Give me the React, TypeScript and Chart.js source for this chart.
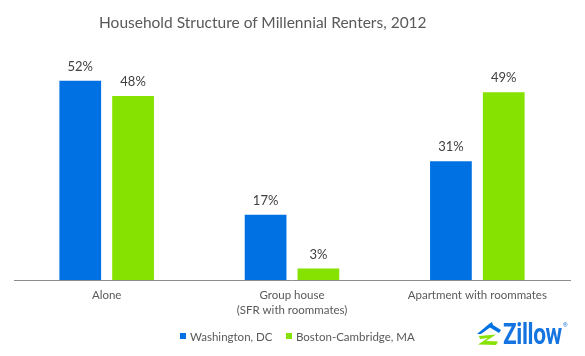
import React, { useEffect, useRef } from "react";
import { Chart, registerables } from "chart.js";

Chart.register(...registerables);

const categories: (string | string[])[] = [
  "Alone",
  ["Group house", "(SFR with roommates)"],
  "Apartment with roommates",
];
const seriesNames = ["Washington, DC", "Boston-Cambridge, MA"];
const washington = [52, 17, 31];
const boston = [48, 3, 49];
const yMax = 60;

const BLUE = "#0071e2";
const GREEN = "#86e200";
const COLORS = [BLUE, GREEN];
const FONT = "Lato, 'Open Sans', sans-serif";

const valueLabels = {
  id: "valueLabels",
  afterDatasetsDraw(chart: any) {
    const ctx = chart.ctx;
    ctx.save();
    ctx.font = `13px ${FONT}`;
    ctx.fillStyle = "#404040";
    ctx.textAlign = "center";
    ctx.textBaseline = "middle";
    chart.data.datasets.forEach((ds: any, i: number) => {
      const meta = chart.getDatasetMeta(i);
      meta.data.forEach((el: any, j: number) => {
        ctx.fillText(`${ds.data[j]}%`, el.x, el.y - 14);
      });
    });
    ctx.restore();
  },
};

export default function App() {
  const ref = useRef<HTMLCanvasElement | null>(null);

  useEffect(() => {
    if (!ref.current) return;
    const chart = new Chart(ref.current, {
      type: "bar",
      data: {
        labels: categories,
        datasets: [
          {
            label: seriesNames[0],
            data: washington,
            backgroundColor: BLUE,
            categoryPercentage: 0.57,
            barPercentage: 0.79,
          },
          {
            label: seriesNames[1],
            data: boston,
            backgroundColor: GREEN,
            categoryPercentage: 0.57,
            barPercentage: 0.79,
          },
        ],
      },
      options: {
        animation: false,
        responsive: false,
        devicePixelRatio: 1,
        layout: { padding: { top: 50, left: 14, right: 15, bottom: 36 } },
        scales: {
          x: {
            grid: { display: false, drawTicks: false },
            border: { display: true, color: "#8c8c8c", width: 1 },
            ticks: {
              color: "#595959",
              font: { family: FONT, size: 11.5, lineHeight: 1.3 },
              padding: 8,
              maxRotation: 0,
              autoSkip: false,
            },
            afterFit: (scale: any) => {
              scale.height = 40;
            },
          },
          y: {
            display: false,
            min: 0,
            max: yMax,
          },
        },
        plugins: {
          title: { display: false },
          tooltip: { enabled: false },
          legend: { display: false },
        },
      },
      plugins: [valueLabels],
    });
    return () => chart.destroy();
  }, []);

  const legendLefts = [180, 286];

  return (
    <div style={{ position: "absolute", left: 0, top: 0, width: 585, height: 356, background: "#fff" }}>
      <canvas ref={ref} width={585} height={356} style={{ display: "block" }} />
      <div
        style={{
          position: "absolute",
          left: 99,
          top: 12.5,
          fontFamily: FONT,
          fontSize: 15.5,
          lineHeight: "18.6px",
          color: "#595959",
          whiteSpace: "nowrap",
        }}
      >
        Household Structure of Millennial Renters, 2012
      </div>
      {seriesNames.map((name, i) => (
        <div
          key={name}
          style={{
            position: "absolute",
            left: legendLefts[i],
            top: 328,
            height: 16,
            display: "flex",
            alignItems: "center",
            fontFamily: FONT,
            fontSize: 11.5,
            color: "#595959",
            whiteSpace: "nowrap",
          }}
        >
          <span style={{ width: 6, height: 6, background: COLORS[i], marginRight: 4, display: "inline-block" }} />
          {name}
        </div>
      ))}
      <svg
        width="24"
        height="24"
        viewBox="0 0 24 24"
        style={{ position: "absolute", left: 477, top: 322 }}
      >
        <polygon points="0,12 12,2 15,0 16,3 24,8 22,11 13,5.5 4,12" fill={BLUE} />
        <polygon points="2,14 19,12.5 9,19 21,19.5 19,23 1,22.5 11,16 3,17" fill={GREEN} />
      </svg>
      <div
        style={{
          position: "absolute",
          left: 503,
          top: 320,
          fontFamily: "Roboto, sans-serif",
          fontWeight: 700,
          fontSize: 29,
          lineHeight: "29px",
          color: "#1574e0",
          letterSpacing: -0.5,
          whiteSpace: "nowrap",
          transform: "scaleX(0.78)",
          transformOrigin: "left top",
        }}
      >
        Zillow
      </div>
      <div
        style={{
          position: "absolute",
          left: 563,
          top: 321,
          fontFamily: "Roboto, sans-serif",
          fontSize: 6,
          color: "#1574e0",
        }}
      >
        ®
      </div>
    </div>
  );
}
